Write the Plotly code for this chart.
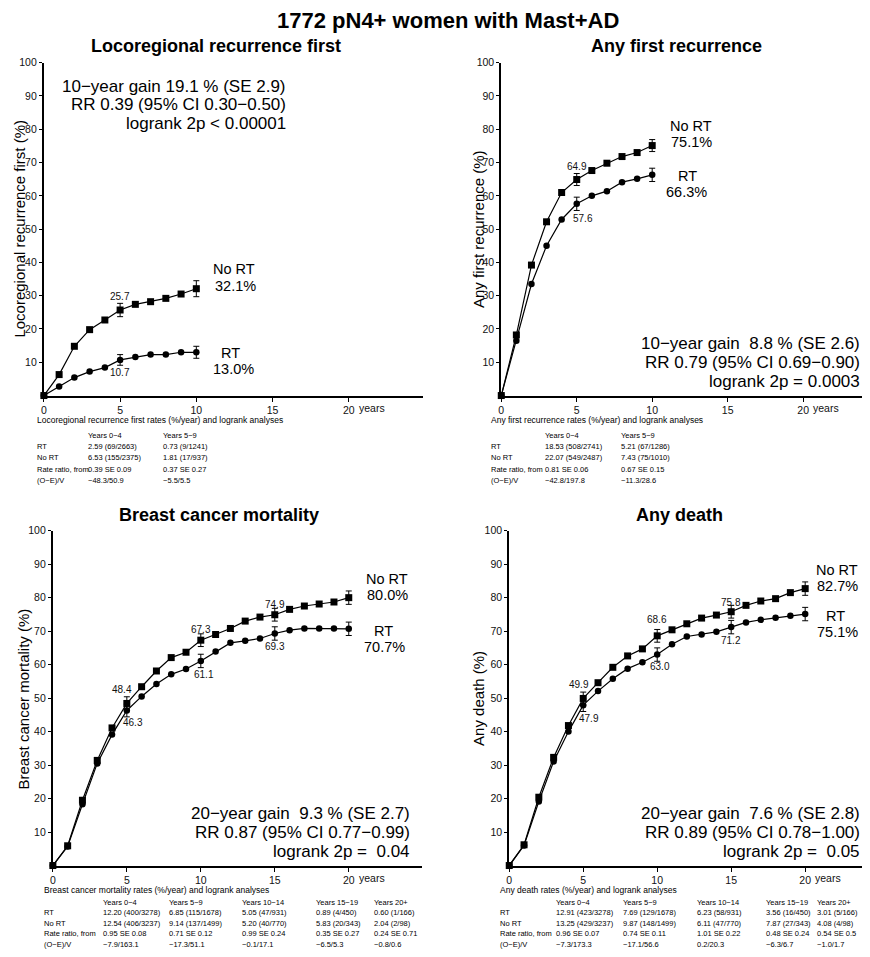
import plotly.graph_objects as go

# The page body has an 8px margin, so the figure is drawn 16px smaller
# and all page-pixel positions are shifted by OFF.
PAGE_W, PAGE_H = 870, 957
OFF = 8
W, H = PAGE_W - 2 * OFF, PAGE_H - 2 * OFF
FONT = "Liberation Sans, Arial, sans-serif"

# ---------------- data ----------------
years10 = list(range(0, 11))
years20 = list(range(0, 21))

# Locoregional recurrence first (%)
lrr_rt = [0, 2.7, 5.4, 7.2, 8.4, 10.7, 11.6, 12.3, 12.3, 13.0, 13.0]
lrr_nort = [0, 6.3, 14.8, 19.8, 22.7, 25.7, 27.4, 28.2, 29.2, 30.5, 32.1]
# Any first recurrence (%)
afr_rt = [0, 16.5, 33.5, 45.0, 52.9, 57.6, 60.0, 61.4, 64.1, 65.1, 66.3]
afr_nort = [0, 18.2, 39.2, 52.2, 61.0, 64.9, 67.6, 69.8, 71.8, 73.0, 75.1]
# Breast cancer mortality (%)
bcm_rt = [0, 5.7, 18.3, 30.5, 39.1, 46.3, 50.5, 54.2, 57.1, 58.7, 61.1,
          63.9, 66.5, 67.1, 67.8, 69.3, 70.3, 70.8, 70.8, 70.8, 70.7]
bcm_nort = [0, 5.9, 19.5, 31.4, 41.1, 48.4, 53.4, 58.1, 62.1, 63.7, 67.3,
            69.0, 70.8, 73.0, 74.2, 74.9, 76.5, 77.5, 78.1, 78.7, 80.0]
# Any death (%)
ad_rt = [0, 6.0, 19.1, 31.1, 40.0, 47.9, 52.1, 55.8, 58.8, 60.7, 63.0,
         66.1, 68.4, 69.0, 69.8, 71.2, 72.6, 73.4, 74.0, 74.6, 75.1]
ad_nort = [0, 6.2, 20.4, 32.3, 41.8, 49.9, 54.6, 59.2, 62.6, 64.7, 68.6,
           70.4, 72.2, 73.9, 74.8, 75.8, 77.7, 79.0, 79.7, 81.5, 82.7]

# error-bar years and standard errors
err10 = [5, 10]
err20 = [5, 10, 15, 20]
lrr_rt_se = [1.6, 1.8]
lrr_nort_se = [2.0, 2.4]
afr_rt_se = [2.0, 2.0]
afr_nort_se = [1.8, 1.8]
bcm_rt_se = [1.9, 2.0, 2.0, 2.0]
bcm_nort_se = [2.0, 1.9, 1.9, 2.0]
ad_rt_se = [1.9, 2.0, 2.0, 2.0]
ad_nort_se = [1.9, 1.9, 1.9, 2.0]

x_tickvals = [0, 5, 10, 15, 20]
x_ticktext = ["0", "5", "10", "15", "20"]
y_tickvals = [10, 20, 30, 40, 50, 60, 70, 80, 90, 100]

main_title = "1772 pN4+ women with Mast+AD"
panel_titles = ["Locoregional recurrence first", "Any first recurrence",
                "Breast cancer mortality", "Any death"]
y_titles = ["Locoregional recurrence first (%)", "Any first recurrence (%)",
            "Breast cancer mortality (%)", "Any death (%)"]

stats_lrr = ["10\u2212year gain 19.1 % (SE 2.9)", "RR 0.39 (95% CI 0.30\u22120.50)",
             "logrank 2p < 0.00001"]
stats_afr = ["10\u2212year gain \u00a08.8 % (SE 2.6)", "RR 0.79 (95% CI 0.69\u22120.90)",
             "logrank 2p = 0.0003"]
stats_bcm = ["20\u2212year gain \u00a09.3 % (SE 2.7)", "RR 0.87 (95% CI 0.77\u22120.99)",
             "logrank 2p = \u00a00.04"]
stats_ad = ["20\u2212year gain \u00a07.6 % (SE 2.8)", "RR 0.89 (95% CI 0.78\u22121.00)",
            "logrank 2p = \u00a00.05"]

end_lrr = [("No RT", "32.1%"), ("RT", "13.0%")]
end_afr = [("No RT", "75.1%"), ("RT", "66.3%")]
end_bcm = [("No RT", "80.0%"), ("RT", "70.7%")]
end_ad = [("No RT", "82.7%"), ("RT", "75.1%")]

table_lrr_title = "Locoregional recurrence first rates (%/year) and logrank analyses"
table_lrr = [["", "Years 0\u22124", "Years 5\u22129"],
             ["RT", "2.59 (69/2663)", "0.73 (9/1241)"],
             ["No RT", "6.53 (155/2375)", "1.81 (17/937)"],
             ["Rate ratio, from", "0.39 SE 0.09", "0.37 SE 0.27"],
             ["(O\u2212E)/V", "\u221248.3/50.9", "\u22125.5/5.5"]]
table_afr_title = "Any first recurrence rates (%/year) and logrank analyses"
table_afr = [["", "Years 0\u22124", "Years 5\u22129"],
             ["RT", "18.53 (508/2741)", "5.21 (67/1286)"],
             ["No RT", "22.07 (549/2487)", "7.43 (75/1010)"],
             ["Rate ratio, from", "0.81 SE 0.06", "0.67 SE 0.15"],
             ["(O\u2212E)/V", "\u221242.8/197.8", "\u221211.3/28.6"]]
table_bcm_title = "Breast cancer mortality rates (%/year) and logrank analyses"
table_bcm = [["", "Years 0\u22124", "Years 5\u22129", "Years 10\u221214", "Years 15\u221219", "Years 20+"],
             ["RT", "12.20 (400/3278)", "6.85 (115/1678)", "5.05 (47/931)", "0.89 (4/450)", "0.60 (1/166)"],
             ["No RT", "12.54 (406/3237)", "9.14 (137/1499)", "5.20 (40/770)", "5.83 (20/343)", "2.04 (2/98)"],
             ["Rate ratio, from", "0.95 SE 0.08", "0.71 SE 0.12", "0.99 SE 0.24", "0.35 SE 0.27", "0.24 SE 0.71"],
             ["(O\u2212E)/V", "\u22127.9/163.1", "\u221217.3/51.1", "\u22120.1/17.1", "\u22126.5/5.3", "\u22120.8/0.6"]]
table_ad_title = "Any death rates (%/year) and logrank analyses"
table_ad = [["", "Years 0\u22124", "Years 5\u22129", "Years 10\u221214", "Years 15\u221219", "Years 20+"],
            ["RT", "12.91 (423/3278)", "7.69 (129/1678)", "6.23 (58/931)", "3.56 (16/450)", "3.01 (5/166)"],
            ["No RT", "13.25 (429/3237)", "9.87 (148/1499)", "6.11 (47/770)", "7.87 (27/343)", "4.08 (4/98)"],
            ["Rate ratio, from", "0.96 SE 0.07", "0.74 SE 0.11", "1.01 SE 0.22", "0.48 SE 0.24", "0.54 SE 0.5"],
            ["(O\u2212E)/V", "\u22127.3/173.3", "\u221217.1/56.6", "0.2/20.3", "\u22126.3/6.7", "\u22121.0/1.7"]]

# ---------------- layout geometry (page pixels) ----------------
def fx(x):
    return (x - OFF) / W

def fy(y):
    return 1 - (y - OFF) / H

panels = [
    dict(ax="", xd=(41, 421), yd=(57, 392), xmax=24.84),
    dict(ax="2", xd=(500, 862), yd=(57, 392), xmax=23.9),
    dict(ax="3", xd=(50, 420), yd=(528, 865), xmax=24.92),
    dict(ax="4", xd=(508, 862), yd=(528, 865), xmax=23.84),
]

fig = go.Figure()
series = [
    (years10, lrr_rt, lrr_nort, err10, lrr_rt_se, lrr_nort_se),
    (years10, afr_rt, afr_nort, err10, afr_rt_se, afr_nort_se),
    (years20, bcm_rt, bcm_nort, err20, bcm_rt_se, bcm_nort_se),
    (years20, ad_rt, ad_nort, err20, ad_rt_se, ad_nort_se),
]

for p, (xs, rt, nort, ey, rt_se, nort_se) in zip(panels, series):
    xa, ya = "x" + p["ax"], "y" + p["ax"]
    for ys, sym, size, se in [(nort, "square", 7, nort_se), (rt, "circle", 6.5, rt_se)]:
        fig.add_trace(go.Scatter(
            x=xs, y=ys, mode="lines+markers", xaxis=xa, yaxis=ya,
            line=dict(color="black", width=1.2),
            marker=dict(symbol=sym, size=size, color="black"),
            cliponaxis=False, showlegend=False, hoverinfo="skip"))
        fig.add_trace(go.Scatter(
            x=ey, y=[ys[xs.index(v)] for v in ey], mode="markers",
            xaxis=xa, yaxis=ya, marker=dict(size=1, color="black"),
            error_y=dict(type="data", array=se, visible=True, color="black",
                         thickness=1, width=3),
            cliponaxis=False, showlegend=False, hoverinfo="skip"))

layout = dict(
    width=W, height=H, paper_bgcolor="white", plot_bgcolor="white",
    margin=dict(l=0, r=0, t=0, b=0), showlegend=False,
    font=dict(family=FONT, color="black"),
)
for p in panels:
    xd = (fx(p["xd"][0]), min(1.0, fx(p["xd"][1])))
    yd = (fy(p["yd"][1]), fy(p["yd"][0]))
    layout["xaxis" + p["ax"]] = dict(
        domain=xd, range=[0, p["xmax"]], anchor="y" + p["ax"],
        tickvals=x_tickvals, ticktext=x_ticktext, ticks="outside", ticklen=4,
        tickwidth=1, tickcolor="black", showline=True, linewidth=2, linecolor="black",
        showgrid=False, zeroline=False, tickfont=dict(size=10.5, color="#111"))
    layout["yaxis" + p["ax"]] = dict(
        domain=yd, range=[0, 100], anchor="x" + p["ax"],
        tickvals=y_tickvals, ticks="outside", ticklen=3, tickwidth=1,
        tickcolor="black", showline=True, linewidth=2, linecolor="black",
        showgrid=False, zeroline=False, tickfont=dict(size=10.5, color="#111"))
fig.update_layout(**layout)

ann = []
def A(text, x, y, size, xanchor="center", yanchor="middle", **kw):
    ann.append(dict(text=text, x=fx(x), y=fy(y), xref="paper", yref="paper",
                    xanchor=xanchor, yanchor=yanchor, showarrow=False,
                    font=dict(size=size, family=FONT, color="black"), **kw))

def D(text, ax, x, y, size=10):
    ann.append(dict(text=text, x=x, y=y, xref="x" + ax, yref="y" + ax,
                    xanchor="center", yanchor="middle", showarrow=False,
                    font=dict(size=size, family=FONT, color="#111")))

# titles
A("<b>" + main_title + "</b>", 447, 15, 22)
A("<b>" + panel_titles[0] + "</b>", 214, 40, 18)
A("<b>" + panel_titles[1] + "</b>", 676, 40, 18)
A("<b>" + panel_titles[2] + "</b>", 217, 512, 18)
A("<b>" + panel_titles[3] + "</b>", 679, 512, 18)

# y-axis titles
A(y_titles[0], 17, 224, 15, textangle=-90)
A(y_titles[1], 477, 224, 15, textangle=-90)
A(y_titles[2], 21, 697, 15, textangle=-90)
A(y_titles[3], 477, 697, 15, textangle=-90)

# "years" suffix after the 20 tick label
for p in panels:
    ann.append(dict(text="years", x=20, y=0, xref="x" + p["ax"], yref="y" + p["ax"],
                    xanchor="left", yanchor="top", xshift=8, yshift=-4, showarrow=False,
                    font=dict(size=10.5, family=FONT, color="#111")))

# stats text
def stats(lines, xr, ys):
    for t, yy in zip(lines, ys):
        A(t, xr, yy, 17, xanchor="right")
stats(stats_lrr, 286, [81, 99, 118])
stats(stats_afr, 862, [340, 359, 378])
stats(stats_bcm, 410, [813, 832, 851])
stats(stats_ad, 862, [813, 832, 851])

# end labels
def ends(labels, pos):
    for (a, b), (x1, y1, x2, y2) in zip(labels, pos):
        A(a, x1, y1, 14.5)
        A(b, x2, y2, 14.5)
ends(end_lrr, [(232, 265, 233, 282), (228, 349, 231, 365)])
ends(end_afr, [(690, 121, 691, 137), (687, 171, 686, 187)])
ends(end_bcm, [(385, 577, 386, 593), (382, 629, 383, 645)])
ends(end_ad, [(837, 568, 837, 584), (835, 614, 837, 630)])

# value labels at points
D("25.7", "", 5.0, 29.8); D("10.7", "", 5.0, 6.8)
D("64.9", "2", 5.0, 68.8); D("57.6", "2", 5.4, 53.3)
D("48.4", "3", 4.65, 52.7); D("46.3", "3", 5.4, 42.6)
D("67.3", "3", 10.0, 70.6); D("61.1", "3", 10.2, 57.2)
D("74.9", "3", 15.0, 78.0); D("69.3", "3", 15.0, 65.3)
D("49.9", "4", 4.7, 54.0); D("47.9", "4", 5.4, 44.0)
D("68.6", "4", 10.0, 73.4); D("63.0", "4", 10.2, 59.3)
D("75.8", "4", 15.0, 78.7); D("71.2", "4", 15.0, 67.2)

# tables
def table(title, rows, x0, ytitle, y0, cols, dy):
    A(title, x0, ytitle, 8.5, xanchor="left")
    for r, row in enumerate(rows):
        for c, cell in enumerate(row):
            if cell:
                A(cell, cols[c], y0 + r * dy, 7.5, xanchor="left")

table(table_lrr_title, table_lrr, 32, 417, 432, [32, 83, 159], 11.4)
table(table_afr_title, table_afr, 488, 417, 432, [488, 542, 618], 11.4)
table(table_bcm_title, table_bcm, 39, 890, 902, [39, 98, 165, 238, 312, 370], 10.6)
table(table_ad_title, table_ad, 497, 890, 902, [497, 553, 620, 694, 764, 815], 10.6)

fig.update_layout(annotations=ann)
fig.write_html("out.html")
